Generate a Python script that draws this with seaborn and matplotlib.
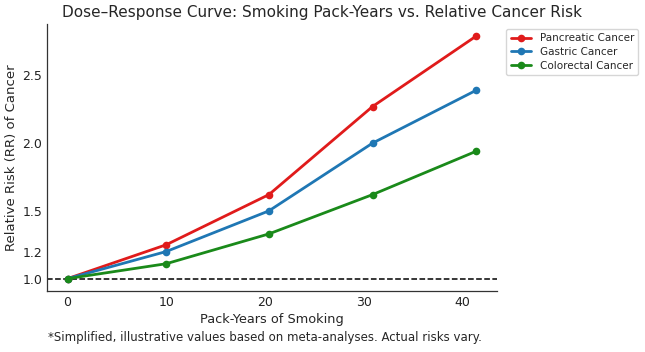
import numpy as np
import pandas as pd
import matplotlib
matplotlib.use("Agg")
import matplotlib.pyplot as plt
import seaborn as sns

# Values.
pack_years = [0, 10, 20.4, 30.9, 41.4]
pancreatic = [1.0, 1.25, 1.62, 2.27, 2.79]
gastric = [1.0, 1.2, 1.5, 2.0, 2.39]
colorectal = [1.0, 1.11, 1.33, 1.62, 1.94]
cancers = ["Pancreatic Cancer", "Gastric Cancer", "Colorectal Cancer"]
colors = ["#e01b1b", "#1f77b4", "#1a8a1a"]

df = pd.DataFrame({
    "Pack-Years": pack_years * 3,
    "RR": pancreatic + gastric + colorectal,
    "Cancer": np.repeat(cancers, len(pack_years)),
})

sns.set_theme(style="white")
plt.rcParams["font.family"] = ["DejaVu Sans"]

fig = plt.figure(figsize=(6.45, 3.52), dpi=100)
ax = fig.add_axes([0.073, 0.174, 0.697, 0.758])

sns.lineplot(data=df, x="Pack-Years", y="RR", hue="Cancer", hue_order=cancers,
             palette=colors, marker="o", markersize=5.5, markeredgewidth=0,
             linewidth=2, ax=ax)
ax.axhline(1.0, color="black", linestyle="--", linewidth=1.1, zorder=0)

ax.set_yticks([1.0, 1.2, 1.5, 2.0, 2.5])
ax.set_xticks([0, 10, 20, 30, 40])
ax.tick_params(direction="in", length=4, labelsize=9, colors="#222222")
ax.set_xlabel("Pack-Years of Smoking", fontsize=9.3, labelpad=3)
ax.set_ylabel("Relative Risk (RR) of Cancer", fontsize=9.5, labelpad=3)
sns.despine(ax=ax)
for s in ["left", "bottom"]:
    ax.spines[s].set_color("#333333")
    ax.spines[s].set_linewidth(0.9)

ax.legend(loc="upper left", bbox_to_anchor=(1.01, 1.0), fontsize=7.5,
          frameon=True, handlelength=2, borderpad=0.4, labelspacing=0.35)

fig.suptitle("Dose\u2013Response Curve: Smoking Pack-Years vs. Relative Cancer Risk",
             fontsize=11, x=0.5, y=0.985)
fig.text(0.41, 0.04, "*Simplified, illustrative values based on meta-analyses. Actual risks vary.",
         ha="center", va="center", fontsize=8.5)

plt.savefig("out.png", dpi=100)
